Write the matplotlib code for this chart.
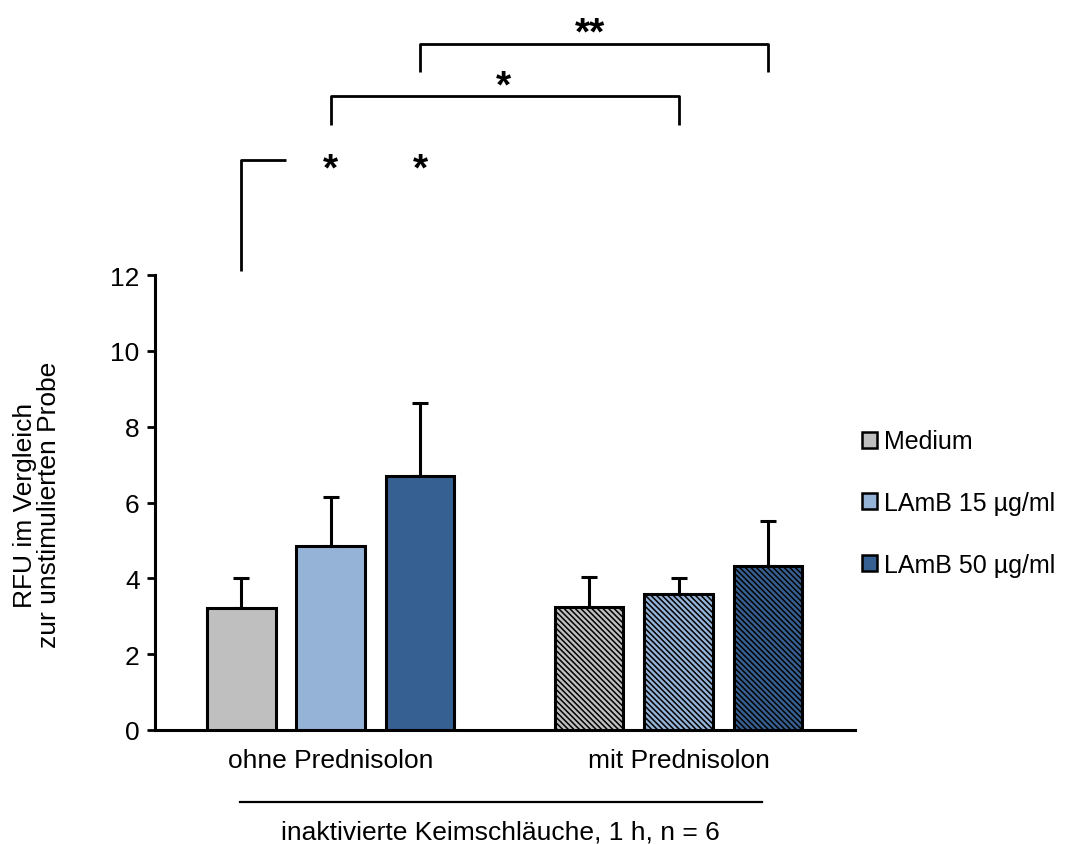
import matplotlib
matplotlib.use("Agg")
import matplotlib.pyplot as plt
from matplotlib.patches import Patch
import matplotlib.transforms as mtransforms

plt.rcParams['font.family'] = ['Liberation Sans', 'DejaVu Sans']
plt.rcParams['hatch.linewidth'] = 1.1

# ---- data ----
groups = ["ohne Prednisolon", "mit Prednisolon"]
series = ["Medium", "LAmB 15 \u00b5g/ml", "LAmB 50 \u00b5g/ml"]
colors = ["#BFBFBF", "#95B3D7", "#376092"]
means_ohne = [3.21, 4.85, 6.69]
err_ohne = [0.79, 1.29, 1.93]
means_mit = [3.24, 3.59, 4.33]
err_mit = [0.79, 0.41, 1.19]
yticks = [0, 2, 4, 6, 8, 10, 12]
footer = "inaktivierte Keimschl\u00e4uche, 1 h, n = 6"
ylabel = "RFU im Vergleich\nzur unstimulierten Probe"

FS = 19

fig = plt.figure(figsize=(10.73, 8.45), dpi=100)
ax = fig.add_axes([155 / 1073, 1 - 731 / 845, 700 / 1073, 455 / 845])

offset = 0.257
width = 0.197
group_pos = [0, 1]
all_means = [means_ohne, means_mit]
all_errs = [err_ohne, err_mit]
hatches = [None, "\\\\\\\\\\\\"]

for gi, g in enumerate(group_pos):
    for si in range(3):
        x = g + (si - 1) * offset
        ax.bar(x, all_means[gi][si], width, color=colors[si], edgecolor="black",
               linewidth=2.2, hatch=hatches[gi], zorder=3,
               yerr=[[0], [all_errs[gi][si]]],
               error_kw=dict(elinewidth=2.2, capsize=6, capthick=2.2, ecolor="black", zorder=2))

ax.set_xlim(-0.505, 1.507)
ax.set_ylim(0, 12)
ax.set_yticks(yticks)
ax.set_yticklabels([str(t) for t in yticks], fontsize=FS)
ax.set_xticks(group_pos)
ax.set_xticklabels(groups, fontsize=FS)
ax.tick_params(axis="x", length=0, pad=13)
ax.tick_params(axis="y", length=6, width=2, direction="out", pad=5)
for s in ["top", "right"]:
    ax.spines[s].set_visible(False)
for s in ["left", "bottom"]:
    ax.spines[s].set_linewidth(2.2)

# significance brackets
lk = dict(color="black", lw=2, clip_on=False, solid_capstyle="butt")
ax.plot([-offset, -offset, -0.128], [12.1, 15.03, 15.03], **lk)
ax.plot([0, 0, 1, 1], [15.95, 16.72, 16.72, 15.95], **lk)
ax.plot([offset, offset, 1 + offset, 1 + offset], [17.35, 18.09, 18.09, 17.35], **lk)
sk = dict(fontsize=28, fontweight="bold", ha="center", va="baseline", clip_on=False)
ax.text(0, 14.52, "*", **sk)
ax.text(offset, 14.52, "*", **sk)
ax.text(0.496, 16.71, "*", **sk)
ax.text(0.745, 18.11, "**", **sk)

# footer line and label
trans = mtransforms.blended_transform_factory(ax.transData, ax.transAxes)
ax.plot([-0.261, 1.24], [-0.158, -0.158], color="black", lw=1.6, clip_on=False, transform=trans)
ax.text(0.487, -0.224, footer, fontsize=FS, ha="center", va="center", transform=trans)

fig.text(37 / 1073, 1 - 505 / 845, ylabel, rotation=90, fontsize=FS,
         ha="center", va="center", multialignment="center", linespacing=1.05)

handles = [Patch(facecolor=c, edgecolor="black", linewidth=1.8) for c in colors]
fig.legend(handles, series, loc="center left", bbox_to_anchor=(862 / 1073, 1 - 504 / 845),
           frameon=False, fontsize=18, handlelength=0.6, handleheight=0.6,
           handletextpad=0.3, labelspacing=1.5, borderpad=0, borderaxespad=0)

fig.savefig("out.png", dpi=100)
